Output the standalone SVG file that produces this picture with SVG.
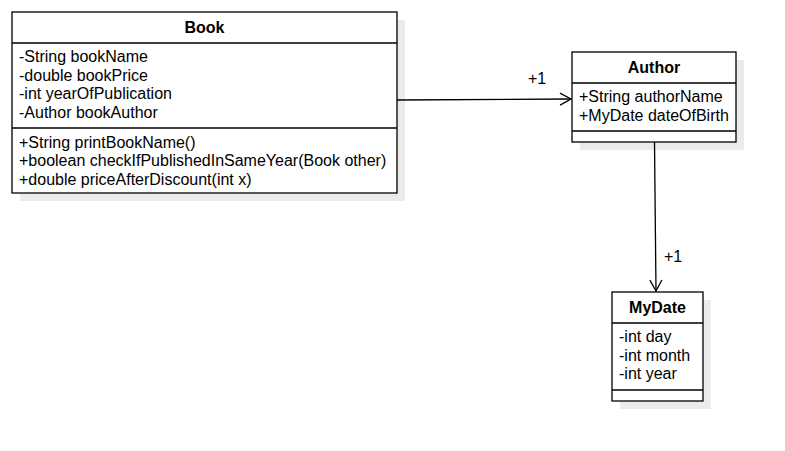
<svg xmlns="http://www.w3.org/2000/svg" width="785" height="451" viewBox="0 0 785 451">
<defs>
<style>
.box{fill:#ffffff;stroke:#000000;stroke-width:1.3}
.shadow{fill:#e6e6e6;opacity:0.8}
.line{stroke:#000000;stroke-width:1.3;fill:none}
.t{font-family:"Liberation Sans",Arial,sans-serif;font-size:16px;fill:#000000}
.h{font-family:"Liberation Sans",Arial,sans-serif;font-size:16px;font-weight:bold;fill:#000000;text-anchor:middle}
.conn{stroke:#000000;stroke-width:1.3;fill:none}
</style>
<marker id="open" markerWidth="14" markerHeight="14" refX="12" refY="7" orient="auto" markerUnits="userSpaceOnUse">
<path d="M1,1 L12,7 L1,13" fill="none" stroke="#000000" stroke-width="1.3"/>
</marker>
</defs>
<rect width="785" height="451" fill="#ffffff"/>
<g id="Book">
<rect class="shadow" x="20" y="20" width="385" height="181"/>
<rect class="box" x="12" y="12" width="385" height="181"/>
<line class="line" x1="12" y1="43" x2="397" y2="43"/>
<line class="line" x1="12" y1="128" x2="397" y2="128"/>
<text class="h" x="204.5" y="33">Book</text>
<text class="t" x="19" y="62">-String bookName</text>
<text class="t" x="19" y="80.5">-double bookPrice</text>
<text class="t" x="19" y="99">-int yearOfPublication</text>
<text class="t" x="19" y="117.5">-Author bookAuthor</text>
<text class="t" x="19" y="147.5">+String printBookName()</text>
<text class="t" x="19" y="166">+boolean checkIfPublishedInSameYear(Book other)</text>
<text class="t" x="19" y="184.5">+double priceAfterDiscount(int x)</text>
</g>
<g id="Author">
<rect class="shadow" x="580" y="60" width="164" height="90"/>
<rect class="box" x="572" y="52" width="164" height="90"/>
<line class="line" x1="572" y1="83" x2="736" y2="83"/>
<line class="line" x1="572" y1="131" x2="736" y2="131"/>
<text class="h" x="654" y="73">Author</text>
<text class="t" x="579" y="102">+String authorName</text>
<text class="t" x="579" y="120.5">+MyDate dateOfBirth</text>
</g>
<g id="MyDate">
<rect class="shadow" x="620" y="300" width="91" height="109"/>
<rect class="box" x="612" y="292" width="91" height="109"/>
<line class="line" x1="612" y1="323" x2="703" y2="323"/>
<line class="line" x1="612" y1="390" x2="703" y2="390"/>
<text class="h" x="657.5" y="313">MyDate</text>
<text class="t" x="619" y="342">-int day</text>
<text class="t" x="619" y="360.5">-int month</text>
<text class="t" x="619" y="379">-int year</text>
</g>
<g id="connectors">
<line class="conn" x1="397" y1="100" x2="571" y2="99" marker-end="url(#open)"/>
<text class="t" x="528" y="84">+1</text>
<line class="conn" x1="654.5" y1="142" x2="656" y2="291" marker-end="url(#open)"/>
<text class="t" x="664" y="262">+1</text>
</g>
</svg>
